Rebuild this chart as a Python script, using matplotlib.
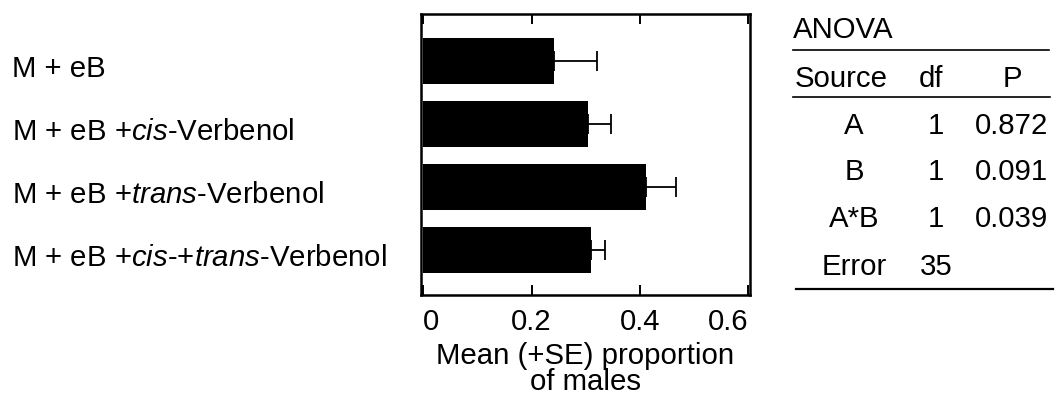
import numpy as np
import matplotlib
matplotlib.use("Agg")
import matplotlib.pyplot as plt
from matplotlib import transforms
from matplotlib.lines import Line2D

plt.rcParams["font.family"] = "Liberation Sans"
plt.rcParams["mathtext.fontset"] = "custom"
plt.rcParams["mathtext.rm"] = "Liberation Sans"
plt.rcParams["mathtext.it"] = "Liberation Sans:italic"

# ----------------------------------------------------
# DATA
# ----------------------------------------------------
treatments = [
    "M + eB",
    r"M + eB +$\mathit{cis}$-Verbenol",
    r"M + eB +$\mathit{trans}$-Verbenol",
    r"M + eB +$\mathit{cis}$-+$\mathit{trans}$-Verbenol",
]
mean_males = [0.241, 0.305, 0.412, 0.310]
se_males = [0.079, 0.042, 0.055, 0.026]

xticks = [0, 0.2, 0.4, 0.6]
xticklabels = ["0", "0.2", "0.4", "0.6"]

anova_source = ["A", "B", "A*B", "Error"]
anova_df = ["1", "1", "1", "35"]
anova_p = ["0.872", "0.091", "0.039", ""]

FS = 21.2

# ----------------------------------------------------
# FIGURE
# ----------------------------------------------------
fig = plt.figure(figsize=(10.55, 4.02), dpi=100)
ax = fig.add_axes([421 / 1055, 1 - 296 / 402, 329 / 1055, 281 / 402])

ypos = np.arange(len(treatments))
ax.barh(ypos, mean_males, height=0.73, color="black", zorder=2)
ax.errorbar(mean_males, ypos, xerr=[np.zeros(len(se_males)), se_males],
            fmt="none", ecolor="black", elinewidth=1.3, capsize=7,
            capthick=1.3, zorder=1)

ax.set_xlim(-0.004, 0.603)
ax.set_ylim(3.72, -0.74)
ax.set_yticks([])
ax.set_xticks(xticks)
ax.set_xticklabels(xticklabels, fontsize=FS)
ax.tick_params(axis="x", direction="in", top=True, length=7, width=1.4, pad=9)
tl = ax.get_xticklabels()
tl[0].set_horizontalalignment("left")
tl[-1].set_horizontalalignment("right")
for s in ax.spines.values():
    s.set_linewidth(1.8)

# treatment names, left aligned at the figure edge
lab_trans = transforms.blended_transform_factory(fig.transFigure, ax.transData)
lab_trans = transforms.offset_copy(lab_trans, fig=fig, y=-11, units="points")
for y, name in zip(ypos, treatments):
    ax.text(12 / 1055, y, name, transform=lab_trans, fontsize=FS,
            ha="left", va="baseline")

ax.text(0.5, -0.165, "Mean (+SE) proportion\nof males", transform=ax.transAxes,
        ha="center", va="top", fontsize=FS, linespacing=0.88)

# ----------------------------------------------------
# ANOVA TABLE (pixel coordinates)
# ----------------------------------------------------
tab = fig.add_axes([0, 0, 1, 1], zorder=-1)
tab.set_xlim(0, 1055)
tab.set_ylim(402, 0)
tab.axis("off")

tab.text(793, 38, "ANOVA", fontsize=FS, ha="left", va="baseline")
tab.add_line(Line2D([793, 1049], [50.5, 50.5], color="black", lw=1.2))
tab.text(795, 86.7, "Source", fontsize=FS, ha="left", va="baseline")
tab.text(931, 86.7, "df", fontsize=FS, ha="center", va="baseline")
tab.text(1012, 86.7, "P", fontsize=FS, ha="center", va="baseline")
tab.add_line(Line2D([793, 1050], [97.5, 97.5], color="black", lw=1.2))

row_base = [134.5, 180.5, 226.7, 275]
for yb, src, df, p in zip(row_base, anova_source, anova_df, anova_p):
    tab.text(854, yb, src, fontsize=FS, ha="center", va="baseline")
    tab.text(936, yb, df, fontsize=FS, ha="center", va="baseline")
    tab.text(1048, yb, p, fontsize=FS, ha="right", va="baseline")
tab.add_line(Line2D([796, 1053], [289.5, 289.5], color="black", lw=1.6))

fig.savefig("out.png", dpi=100, facecolor="white")
